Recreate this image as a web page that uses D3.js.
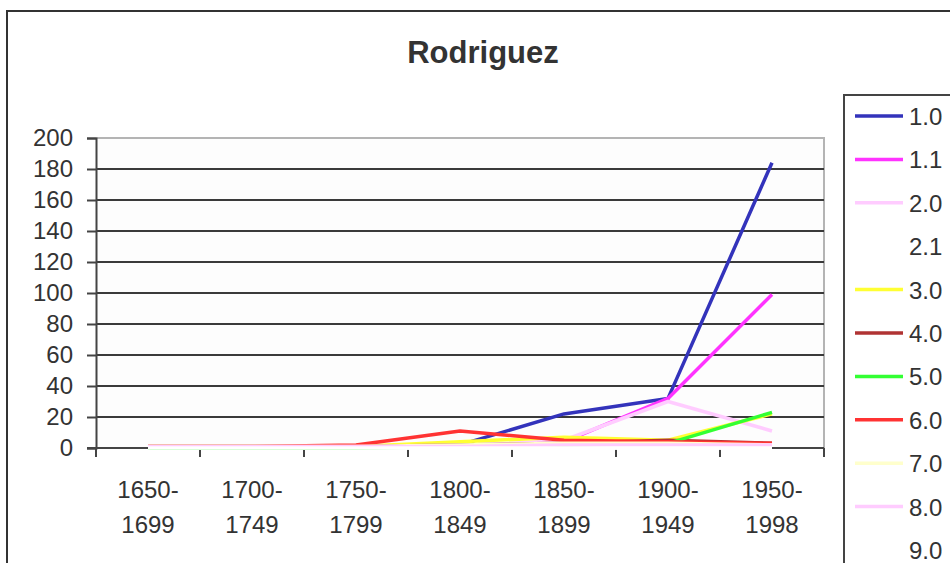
<!DOCTYPE html>
<html>
<head>
<meta charset="utf-8">
<script src="https://cdn.jsdelivr.net/npm/d3@7"></script>
<style>
  body { margin: 0; background: #fff; }
  svg text { font-family: "Liberation Sans", Arial, sans-serif; fill: #333; }
</style>
</head>
<body>
<div id="chart"></div>
<script>
// categories (two-line labels)
var periods = ["1650-1699", "1700-1749", "1750-1799", "1800-1849", "1850-1899", "1900-1949", "1950-1998"];
var seriesNames = ["1.0", "1.1", "2.0", "2.1", "3.0", "4.0", "5.0", "6.0", "7.0", "8.0", "9.0"];
var seriesColors = ["#3333bb", "#ff33ff", "#ffccff", "#ffffff", "#ffff33", "#b03333", "#33ff33", "#ff3333", "#ffffcc", "#ffccff", "#ffffff"];

// values
var s10 = [0, 0, 0, 2, 22, 32, 184];
var s11 = [0, 0, 0, 1, 4, 32, 99];
var s20 = [0, 0, 0, 1, 5, 30, 11];
var s21 = [0, 0, 0, 0, 0, 0, 0];
var s30 = [1, 1, 1, 4, 7, 5, 22];
var s40 = [1, 1, 1, 2, 3, 5, 3];
var s50 = [0, 0, 0, 1, 2, 3, 23];
var s60 = [1, 1, 2, 11, 5, 4, 3];
var s70 = [1, 1, 1, 2, 3, 3, 2];
var s80 = [1, 1, 1, 1, 2, 2, 2];
var s90 = [0, 0, 0, 0, 0, 0, 0];
var allValues = [s10, s11, s20, s21, s30, s40, s50, s60, s70, s80, s90];
var yTicks = [0, 20, 40, 60, 80, 100, 120, 140, 160, 180, 200];

var W = 950, H = 563;
var plot = {left: 96, right: 824, top: 138, bottom: 448};

var svg = d3.select("#chart").append("svg")
    .attr("width", W)
    .attr("height", H);

// outer chart frame (runs off the right and bottom)
svg.append("rect")
    .attr("x", 7).attr("y", 11)
    .attr("width", W + 20).attr("height", H + 20)
    .attr("fill", "#fff")
    .attr("stroke", "#333")
    .attr("stroke-width", 2);

svg.append("text")
    .attr("x", 483).attr("y", 63)
    .attr("text-anchor", "middle")
    .style("font-size", "31px")
    .style("font-weight", "bold")
    .text("Rodriguez");

var x = d3.scaleBand().domain(periods).range([plot.left, plot.right]).padding(0);
var y = d3.scaleLinear().domain([0, 200]).range([plot.bottom, plot.top]);

// plot area
svg.append("rect")
    .attr("x", plot.left).attr("y", plot.top)
    .attr("width", plot.right - plot.left).attr("height", plot.bottom - plot.top)
    .attr("fill", "#fdfdfd");
svg.append("path")
    .attr("d", "M" + plot.left + "," + plot.top + "H" + plot.right + "V" + plot.bottom)
    .attr("fill", "none")
    .attr("stroke", "#b4b4b4")
    .attr("stroke-width", 2);

// gridlines
svg.append("g")
  .selectAll("line")
  .data(yTicks.filter(function(d){ return d > 0 && d < 200; }))
  .enter().append("line")
    .attr("x1", plot.left).attr("x2", plot.right)
    .attr("y1", function(d){ return y(d); })
    .attr("y2", function(d){ return y(d); })
    .attr("stroke", "#3a3a3a")
    .attr("stroke-width", 2);

// y axis
var yAxis = d3.axisLeft(y).tickValues(yTicks).tickSize(9).tickPadding(14);
var gy = svg.append("g")
    .attr("transform", "translate(" + plot.left + ",0)")
    .call(yAxis);
gy.select(".domain").attr("stroke", "#444").attr("stroke-width", 2);
gy.selectAll(".tick line").attr("stroke", "#444").attr("stroke-width", 2);
gy.selectAll(".tick text")
    .style("font-size", "24px")
    .attr("fill", "#333");

// x axis, ticks at category boundaries
svg.append("line")
    .attr("x1", plot.left - 9).attr("x2", plot.right)
    .attr("y1", plot.bottom).attr("y2", plot.bottom)
    .attr("stroke", "#444").attr("stroke-width", 2);
var bounds = periods.map(function(p){ return x(p); }).concat([plot.right]);
svg.append("g")
  .selectAll("line")
  .data(bounds)
  .enter().append("line")
    .attr("x1", function(d){ return d; }).attr("x2", function(d){ return d; })
    .attr("y1", plot.bottom).attr("y2", plot.bottom + 9)
    .attr("stroke", "#444").attr("stroke-width", 2);

var xLabels = svg.append("g")
  .selectAll("text")
  .data(periods)
  .enter().append("text")
    .attr("text-anchor", "middle")
    .attr("transform", function(d){ return "translate(" + (x(d) + x.bandwidth() / 2) + ",0)"; })
    .style("font-size", "24px");
xLabels.append("tspan").attr("x", 0).attr("y", 498)
    .text(function(d){ return d.split("-")[0] + "-"; });
xLabels.append("tspan").attr("x", 0).attr("y", 533)
    .text(function(d){ return d.split("-")[1]; });

// lines
var line = d3.line()
    .x(function(d, i){ return x(periods[i]) + x.bandwidth() / 2; })
    .y(function(d){ return y(d); });

svg.append("g")
  .selectAll("path")
  .data(allValues)
  .enter().append("path")
    .attr("d", function(d){ return line(d); })
    .attr("fill", "none")
    .attr("stroke", function(d, i){ return seriesColors[i]; })
    .attr("stroke-width", 3.5)
    .attr("stroke-linejoin", "round");

// legend
svg.append("rect")
    .attr("x", 844).attr("y", 95)
    .attr("width", 140).attr("height", 520)
    .attr("fill", "#fff")
    .attr("stroke", "#444")
    .attr("stroke-width", 2);

var legend = svg.append("g")
  .selectAll("g")
  .data(seriesNames)
  .enter().append("g")
    .attr("transform", function(d, i){ return "translate(0," + (116 + i * 43.4) + ")"; });
legend.append("line")
    .attr("x1", 855).attr("x2", 903)
    .attr("stroke", function(d, i){ return seriesColors[i]; })
    .attr("stroke-width", 3.5);
legend.append("text")
    .attr("x", 909).attr("y", 9)
    .style("font-size", "24px")
    .text(function(d){ return d; });
</script>
</body>
</html>
